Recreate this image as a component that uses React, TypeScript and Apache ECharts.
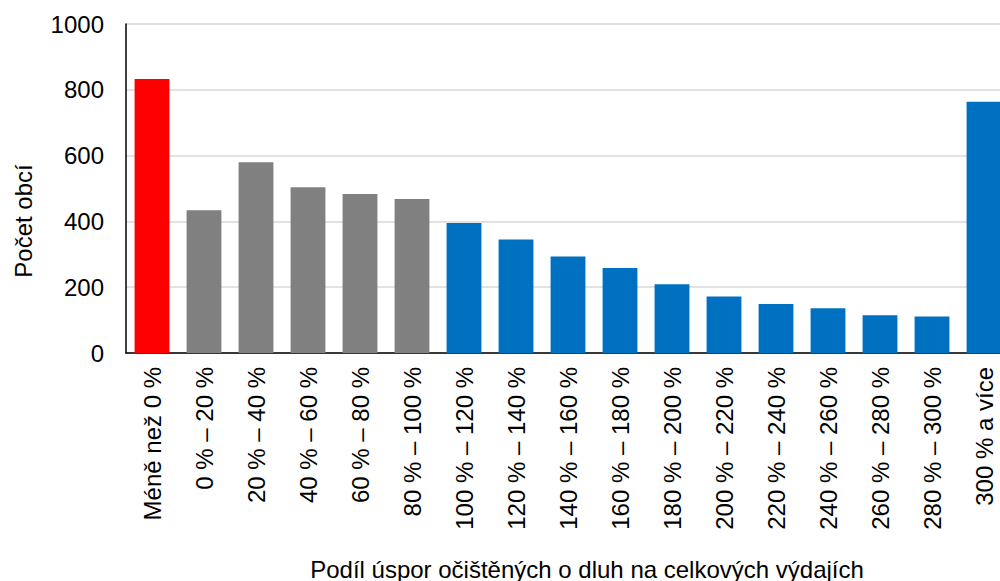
import React, { useEffect, useRef } from "react";
import * as echarts from "echarts";

const categories = [
  "Méně než 0 %",
  "0 % – 20 %",
  "20 % – 40 %",
  "40 % – 60 %",
  "60 % – 80 %",
  "80 % – 100 %",
  "100 % – 120 %",
  "120 % – 140 %",
  "140 % – 160 %",
  "160 % – 180 %",
  "180 % – 200 %",
  "200 % – 220 %",
  "220 % – 240 %",
  "240 % – 260 %",
  "260 % – 280 %",
  "280 % – 300 %",
  "300 % a více",
];

const values = [833, 434, 580, 504, 483, 468, 395, 345, 293, 258, 209, 172, 149, 136, 115, 111, 764];

// group of each bar: "neg" (red), "low" (gray), "high" (blue)
const groups = [
  "neg", "low", "low", "low", "low", "low",
  "high", "high", "high", "high", "high", "high", "high", "high", "high", "high", "high",
];

const groupColors: Record<string, string> = {
  neg: "#FF0000",
  low: "#808080",
  high: "#0070C0",
};

const yTicks = { min: 0, max: 1000, interval: 200 };
const yAxisTitle = "Počet obcí";
const xAxisTitle = "Podíl úspor očištěných o dluh na celkových výdajích";

const FONT = "'Liberation Sans', Arial, sans-serif";
const FS = 24;

export default function App() {
  const ref = useRef<HTMLDivElement>(null);

  useEffect(() => {
    if (!ref.current) return;
    const chart = echarts.init(ref.current, undefined, { renderer: "svg" });
    chart.setOption({
      animation: false,
      backgroundColor: "#ffffff",
      textStyle: { fontFamily: FONT },
      grid: {
        left: 126,
        top: 24,
        width: 884,
        height: 329,
        containLabel: false,
        outerBoundsMode: "none",
      },
      xAxis: {
        type: "category",
        data: categories,
        axisLine: { show: true, lineStyle: { color: "#000000", width: 1.5 } },
        axisTick: { show: false },
        axisLabel: {
          rotate: 90,
          interval: 0,
          margin: 14,
          color: "#000000",
          fontSize: FS,
          fontFamily: FONT,
        },
        splitLine: { show: false },
      },
      yAxis: {
        type: "value",
        min: yTicks.min,
        max: yTicks.max,
        interval: yTicks.interval,
        axisLine: { show: true, lineStyle: { color: "#000000", width: 1.5 } },
        axisTick: { show: false },
        axisLabel: {
          color: "#000000",
          fontSize: FS,
          margin: 22,
          fontFamily: FONT,
          formatter: (v: number) => String(v),
        },
        splitLine: { show: true, lineStyle: { color: "#D9D9D9", width: 1.5 } },
      },
      series: [
        {
          type: "bar",
          barCategoryGap: "33%",
          data: values.map((v, i) => ({
            value: v,
            itemStyle: { color: groupColors[groups[i]] },
          })),
        },
      ],
      graphic: [
        {
          type: "text",
          x: 23,
          y: 221,
          rotation: Math.PI / 2,
          style: {
            text: yAxisTitle,
            fontSize: FS,
            fontFamily: FONT,
            fill: "#000000",
            align: "center",
            verticalAlign: "middle",
          },
        },
        {
          type: "text",
          x: 587,
          y: 569,
          style: {
            text: xAxisTitle,
            fontSize: FS,
            fontFamily: FONT,
            fill: "#000000",
            align: "center",
            verticalAlign: "middle",
          },
        },
      ],
    });
    return () => chart.dispose();
  }, []);

  return (
    <div
      ref={ref}
      style={{ position: "fixed", left: 0, top: 0, width: 1000, height: 581 }}
    />
  );
}
